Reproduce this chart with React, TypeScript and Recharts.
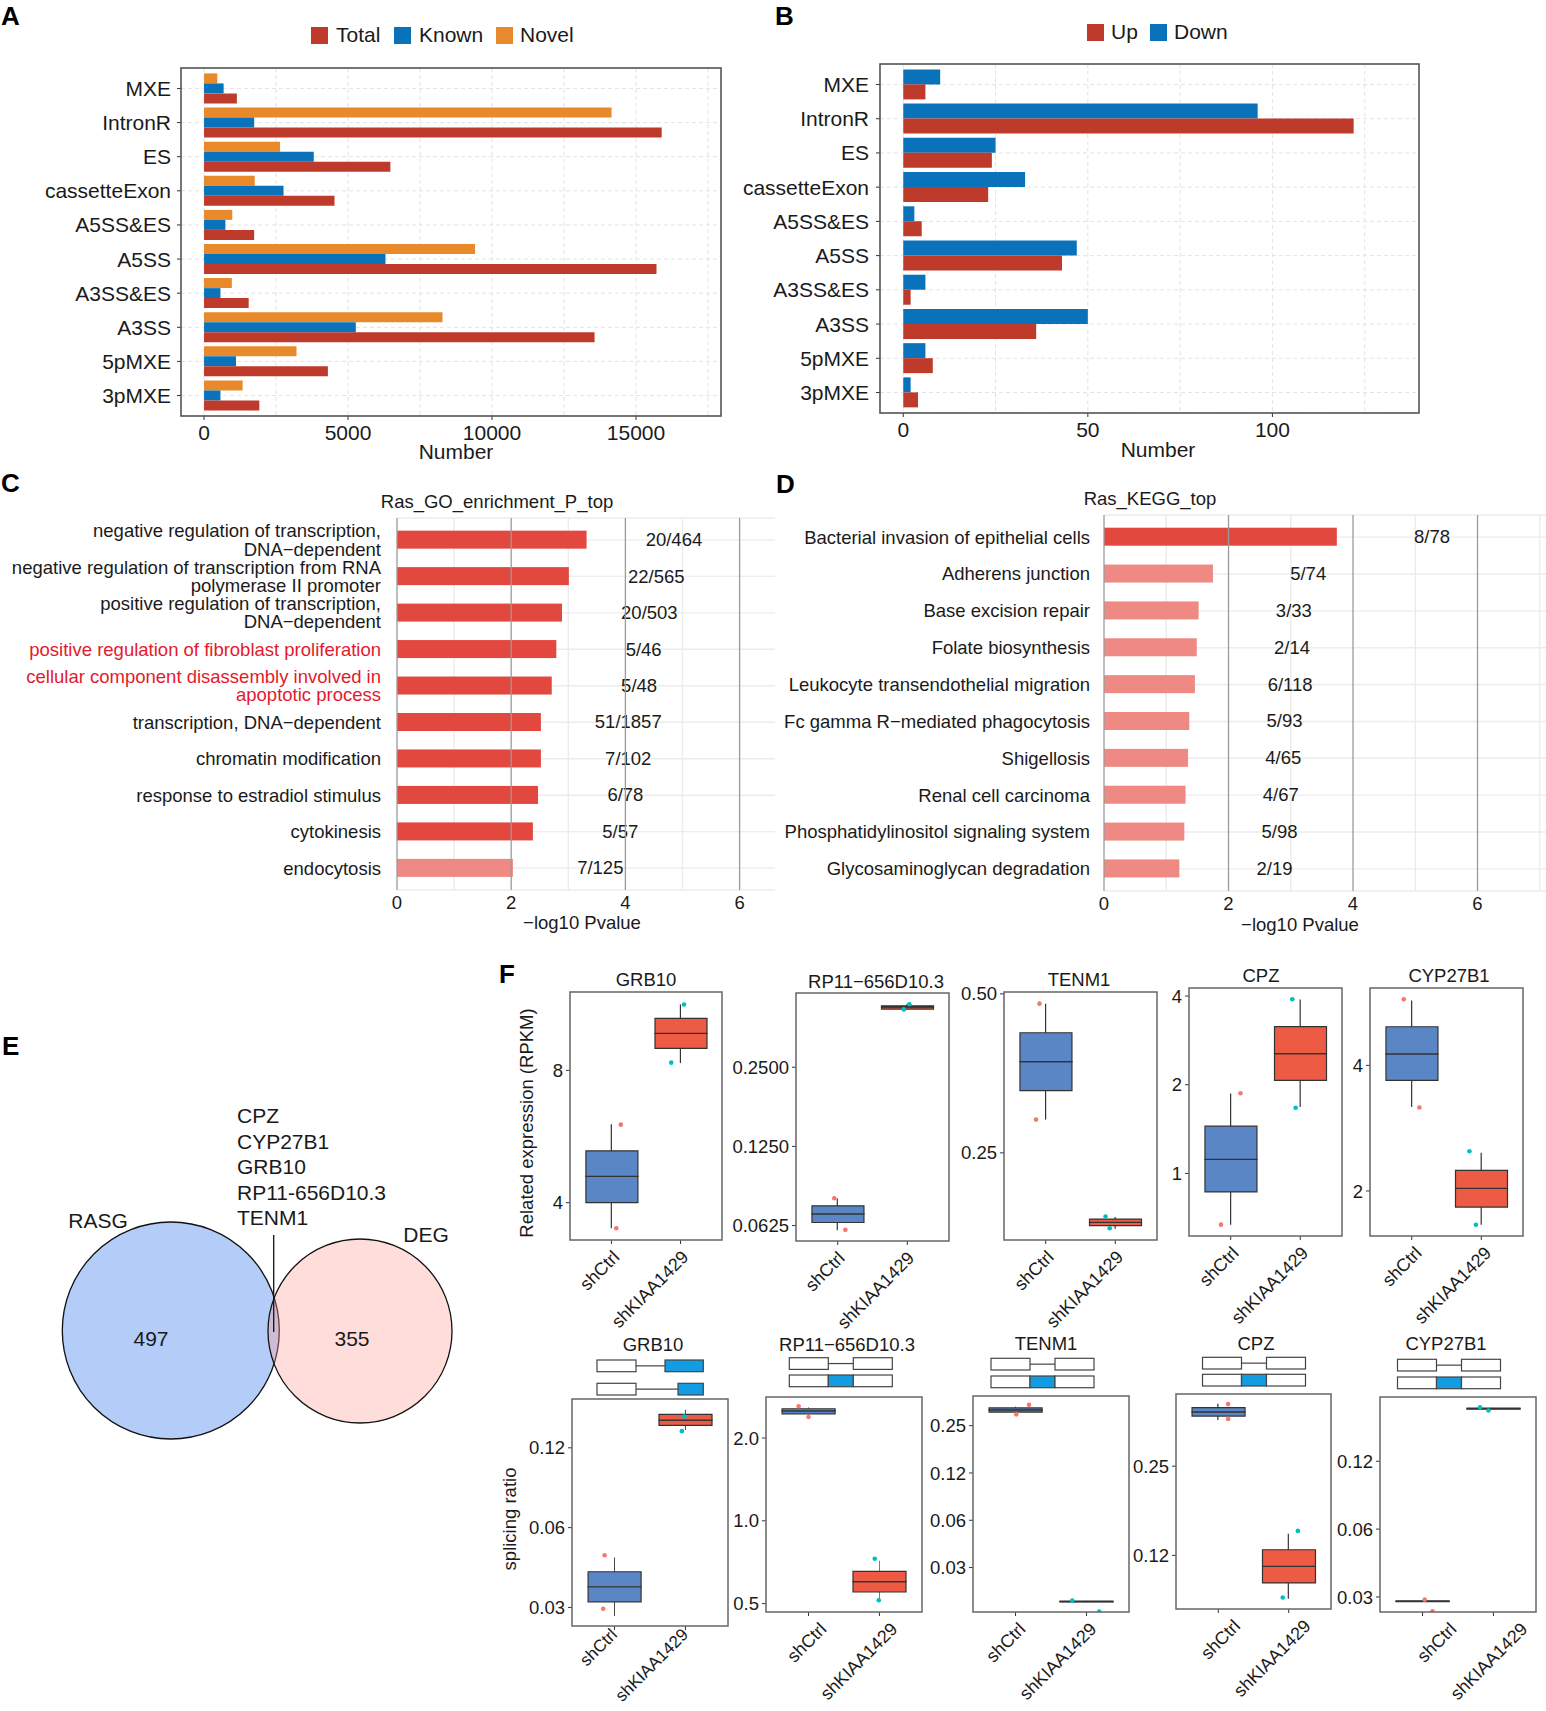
import React from 'react';
import {
  BarChart,
  Bar,
  XAxis,
  YAxis,
  CartesianGrid,
  ComposedChart,
  Scatter,
  ScatterChart,
  ReferenceLine,
  Cell,
} from 'recharts';

const FONT = '"Liberation Sans", Arial, Helvetica, sans-serif';
const INK = '#1a1a1a';

// ---------- A: AS events ----------
const eventTypes = ['MXE', 'IntronR', 'ES', 'cassetteExon', 'A5SS&ES', 'A5SS', 'A3SS&ES', 'A3SS', '5pMXE', '3pMXE'];
const totalCounts = [1140, 15890, 6470, 4530, 1740, 15710, 1550, 13560, 4300, 1920];
const knownCounts = [680, 1740, 3810, 2760, 740, 6300, 570, 5270, 1110, 570];
const novelCounts = [460, 14150, 2640, 1760, 980, 9410, 965, 8280, 3210, 1340];

// ---------- B: regulated AS events ----------
const upCounts = [6, 122, 24, 23, 5, 43, 2, 36, 8, 4];
const downCounts = [10, 96, 25, 33, 3, 47, 6, 50, 6, 2];

// ---------- C: GO ----------
const goTerms = [
  'negative regulation of transcription,\nDNA\u2212dependent',
  'negative regulation of transcription from RNA\npolymerase II promoter',
  'positive regulation of transcription,\nDNA\u2212dependent',
  'positive regulation of fibroblast proliferation',
  'cellular component disassembly involved in\napoptotic process',
  'transcription, DNA\u2212dependent',
  'chromatin modification',
  'response to estradiol stimulus',
  'cytokinesis',
  'endocytosis',
];
const goLogP = [3.32, 3.01, 2.89, 2.79, 2.71, 2.52, 2.52, 2.47, 2.38, 2.03];
const goRatio = ['20/464', '22/565', '20/503', '5/46', '5/48', '51/1857', '7/102', '6/78', '5/57', '7/125'];
const goHighlighted = [3, 4];

// ---------- D: KEGG ----------
const keggTerms = [
  'Bacterial invasion of epithelial cells',
  'Adherens junction',
  'Base excision repair',
  'Folate biosynthesis',
  'Leukocyte transendothelial migration',
  'Fc gamma R\u2212mediated phagocytosis',
  'Shigellosis',
  'Renal cell carcinoma',
  'Phosphatidylinositol signaling system',
  'Glycosaminoglycan degradation',
];
const keggLogP = [3.74, 1.75, 1.52, 1.49, 1.46, 1.37, 1.35, 1.31, 1.29, 1.21];
const keggRatio = ['8/78', '5/74', '3/33', '2/14', '6/118', '5/93', '4/65', '4/67', '5/98', '2/19'];

// ---------- E: Venn ----------
const vennSets = ['RASG', 'DEG'];
const vennOnly = [497, 355];
const vennShared = ['CPZ', 'CYP27B1', 'GRB10', 'RP11-656D10.3', 'TENM1'];

// ---------- F: box plots ----------
const groups = ['shCtrl', 'shKIAA1429'];
// [min, q1, median, q3, max] for shCtrl and shKIAA1429
const exprGRB10 = [[3.5, 4.0, 4.59, 5.25, 6.03], [8.31, 8.98, 9.71, 10.5, 11.3]];
const exprRP11 = [[0.06, 0.0642, 0.0692, 0.0743, 0.0792], [0.415, 0.416, 0.423, 0.428, 0.434]];
const exprTENM1 = [[0.289, 0.328, 0.372, 0.422, 0.479], [0.1795, 0.182, 0.1847, 0.1873, 0.189]];
const exprCPZ = [[0.67, 0.865, 1.115, 1.447, 1.866], [1.68, 2.07, 2.55, 3.15, 3.89]];
const exprCYP27B1 = [[3.18, 3.68, 4.26, 4.95, 5.72], [1.66, 1.83, 2.03, 2.24, 2.47]];
const splGRB10 = [[0.029, 0.0328, 0.0374, 0.0426, 0.0482], [0.146, 0.152, 0.159, 0.167, 0.174]];
const splRP11 = [[2.44, 2.45, 2.51, 2.556, 2.59], [0.517, 0.551, 0.601, 0.655, 0.715]];
const splTENM1 = [[0.302, 0.305, 0.315, 0.324, 0.331], [0.0188, 0.0189, 0.019, 0.0191, 0.0192]];
const splCPZ = [[0.358, 0.369, 0.381, 0.394, 0.406], [0.0892, 0.1009, 0.1147, 0.1306, 0.148]];
const splCYP27B1 = [[0.0297, 0.0298, 0.0299, 0.03, 0.0301], [0.212, 0.213, 0.214, 0.215, 0.216]];
// jittered samples [group position, value]
const exprPtsGRB10 = [[1.135, 6.02], [1.07, 3.5], [2.05, 11.3], [1.865, 8.33]];
const exprPtsRP11 = [[0.95, 0.0794], [1.11, 0.0602], [2.03, 0.434], [1.95, 0.415]];
const exprPtsTENM1 = [[0.91, 0.479], [0.86, 0.289], [1.86, 0.1895], [1.92, 0.18]];
const exprPtsCPZ = [[1.14, 1.87], [0.86, 0.67], [1.885, 3.9], [1.934, 1.67]];
const exprPtsCYP27B1 = [[0.885, 5.76], [1.11, 3.17], [1.83, 2.49], [1.923, 1.66]];
const splPtsGRB10 = [[0.86, 0.0492], [0.84, 0.0309], [1.986, 0.164], [1.95, 0.1445]];
const splPtsRP11 = [[0.86, 2.61], [1.0, 2.385], [1.934, 0.728], [1.99, 0.514]];
const splPtsTENM1 = [[1.19, 0.339], [1.01, 0.295], [1.8, 0.0193], [2.18, 0.0164]];
const splPtsCPZ = [[1.14, 0.405], [1.14, 0.361], [2.13, 0.1512], [1.915, 0.0901]];
const splPtsCYP27B1 = [[1.03, 0.0304], [1.14, 0.027], [1.81, 0.217], [1.93, 0.21]];

// ---------- styles / layout ----------
const C_TOTAL = '#BE3A2B';
const C_KNOWN = '#0A72BA';
const C_NOVEL = '#E8892B';
const BAR_DARK = '#E2483E';
const BAR_LIGHT = '#EE8A83';
const DARK_CUTOFF = 2.2;
const RED_TEXT = '#E31A2C';
const BOX_FILL = ['#5B86C5', '#EE5B44'];
const PT_FILL = ['#F8766D', '#00BFC4'];
const EXON_BLUE = '#139CE2';
const RATIO_SHIFT = 1.53;

const exprPanels = [
  { gene: 'GRB10', stats: exprGRB10, pts: exprPtsGRB10, box: [570, 992, 722, 1240], domain: [3.29, 12.06], ticks: [4, 8], labels: ['4', '8'], title: [646, 986], dx: 0, dy: 0, fs: 18 },
  { gene: 'RP11\u2212656D10.3', stats: exprRP11, pts: exprPtsRP11, box: [796, 993, 949, 1241], domain: [0.0546, 0.479], ticks: [0.0625, 0.125, 0.25], labels: ['0.0625', '0.1250', '0.2500'], title: [876, 988], dx: -1, dy: 0, fs: 18 },
  { gene: 'TENM1', stats: exprTENM1, pts: exprPtsTENM1, box: [1004, 992, 1157, 1240], domain: [0.171, 0.504], ticks: [0.25, 0.5], labels: ['0.25', '0.50'], title: [1079, 986], dx: 0, dy: 0, fs: 18 },
  { gene: 'CPZ', stats: exprCPZ, pts: exprPtsCPZ, box: [1189, 988, 1342, 1236], domain: [0.613, 4.26], ticks: [1, 2, 4], labels: ['1', '2', '4'], title: [1261, 982], dx: 0, dy: 0, fs: 18 },
  { gene: 'CYP27B1', stats: exprCYP27B1, pts: exprPtsCYP27B1, box: [1370, 988, 1523, 1236], domain: [1.56, 6.13], ticks: [2, 4], labels: ['2', '4'], title: [1449, 982], dx: 2, dy: 0, fs: 18 },
];

const splPanels = [
  { gene: 'GRB10', stats: splGRB10, pts: splPtsGRB10, box: [572, 1399, 728, 1626], domain: [0.0266, 0.191], ticks: [0.03125, 0.0625, 0.125], labels: ['0.03', '0.06', '0.12'], title: [653, 1351], dx: -5, dy: -8, fs: 17 },
  { gene: 'RP11\u2212656D10.3', stats: splRP11, pts: splPtsRP11, box: [766, 1397, 922, 1612], domain: [0.466, 2.82], ticks: [0.5, 1, 2], labels: ['0.5', '1.0', '2.0'], title: [847, 1351], dx: 10, dy: 0, fs: 18 },
  { gene: 'TENM1', stats: splTENM1, pts: splPtsTENM1, box: [973, 1396, 1129, 1612], domain: [0.0163, 0.386], ticks: [0.03125, 0.0625, 0.125, 0.25], labels: ['0.03', '0.06', '0.12', '0.25'], title: [1046, 1350], dx: 2, dy: 0, fs: 18 },
  { gene: 'CPZ', stats: splCPZ, pts: splPtsCPZ, box: [1176, 1394, 1331, 1609], domain: [0.0824, 0.438], ticks: [0.125, 0.25], labels: ['0.12', '0.25'], title: [1256, 1350], dx: 14, dy: 0, fs: 18 },
  { gene: 'CYP27B1', stats: splCYP27B1, pts: splPtsCYP27B1, box: [1380, 1397, 1536, 1612], domain: [0.0268, 0.241], ticks: [0.03125, 0.0625, 0.125], labels: ['0.03', '0.06', '0.12'], title: [1446, 1350], dx: 26, dy: 0, fs: 18 },
];

// generic cassette diagrams: [left x, row1 top, row2 top]
const exonDiagrams = [
  [789.3, 1357.7, 1375],
  [991, 1358.3, 1376],
  [1202.5, 1357.3, 1374.3],
  [1397.5, 1359.3, 1377],
];

const vennLayout = [
  { ux: 170.8, uy: 230.5, r: 108.5, fill: '#B4CDF8', opacity: 1 },
  { ux: 360, uy: 231, r: 92, fill: '#FF9D96', opacity: 0.35 },
];

// ---------- components ----------
function TermTick(props: any) {
  const { x, y, payload, red } = props;
  const lines = String(payload.value).split('\n');
  const isRed = red && red.includes(payload.value);
  const lh = 18.3;
  const y0 = y - ((lines.length - 1) * lh) / 2;
  return (
    <text x={x} y={y0} textAnchor="end" fontSize={18.5} fill={isRed ? RED_TEXT : INK} fontFamily={FONT}>
      {lines.map((l, i) => (
        <tspan key={i} x={x} y={y0 + i * lh} dy="0.35em">
          {l}
        </tspan>
      ))}
    </text>
  );
}

function EnrichBar(props: any) {
  const { x, y, width, height } = props;
  const d = props.payload ?? props;
  if (!width || !d || !d.value) return null;
  const px = width / d.value;
  return (
    <g>
      <rect x={x} y={y} width={width} height={height} fill={d.value > DARK_CUTOFF ? BAR_DARK : BAR_LIGHT} />
      <text x={x + width + RATIO_SHIFT * px} y={y + height / 2} dy="0.35em" textAnchor="middle" fontSize={18.5} fill={INK} fontFamily={FONT}>
        {d.ratio}
      </text>
    </g>
  );
}

function GroupTick(props: any) {
  const { x, y, payload, dx, shiftY, fs } = props;
  const ax = x + dx;
  const ay = y + 3 + (shiftY || 0);
  return (
    <text x={ax} y={ay} transform={`rotate(-45 ${ax} ${ay})`} textAnchor="end" dy="0.72em" fontSize={fs || 18} fill={INK} fontFamily={FONT}>
      {groups[Math.round(payload.value) - 1]}
    </text>
  );
}

function SampleDot(props: any) {
  const { cx, cy } = props;
  const d = props.payload ?? props;
  return <circle cx={cx} cy={cy} r={2.3} fill={PT_FILL[d.g]} />;
}

function VennCircle(props: any) {
  const { cx, cy } = props;
  const d = props.payload ?? props;
  return <circle cx={cx} cy={cy} r={d.r} fill={d.fill} fillOpacity={d.opacity} stroke="#111" strokeWidth={1.3} />;
}

function EventChart(props: any) {
  const { left, width, margin, yWidth, rows, series, domain, ticks, grid, barSize, tickMargin } = props;
  return (
    <div style={{ position: 'absolute', left, top: 0 }}>
      <BarChart layout="vertical" width={width} height={470} data={rows} margin={margin} barGap={0}>
        <CartesianGrid stroke="#e3e3e3" strokeDasharray="4 3" verticalValues={grid} />
        <XAxis
          type="number"
          domain={domain}
          ticks={ticks}
          allowDataOverflow
          height={30}
          axisLine={false}
          tickSize={4}
          tickMargin={5}
          tickLine={{ stroke: '#333' }}
          tick={{ fontSize: 21, fill: INK, fontFamily: FONT }}
          interval={0}
        />
        <YAxis
          type="category"
          dataKey="type"
          width={yWidth}
          axisLine={false}
          tickSize={4}
          tickMargin={tickMargin}
          tickLine={{ stroke: '#333' }}
          padding={{ top: 3.4, bottom: 3.4 }}
          tick={{ fontSize: 21, fill: INK, fontFamily: FONT }}
          interval={0}
        />
        {series.map((s: any) => (
          <Bar key={s.key} dataKey={s.key} fill={s.color} barSize={barSize} isAnimationActive={false} />
        ))}
      </BarChart>
    </div>
  );
}

function EnrichChart(props: any) {
  const { left, width, margin, yWidth, rows, domain, yPad, red, yTickMargin, minor } = props;
  return (
    <div style={{ position: 'absolute', left, top: 480 }}>
      <BarChart layout="vertical" width={width} height={460} data={rows} margin={margin}>
        <CartesianGrid stroke="#ececec" strokeWidth={1.4} verticalValues={minor} />
        <XAxis
          type="number"
          domain={domain}
          ticks={[0, 2, 4, 6]}
          allowDataOverflow
          height={30}
          axisLine={false}
          tickLine={false}
          tickSize={0}
          tickMargin={6}
          tick={{ fontSize: 18.5, fill: INK, fontFamily: FONT }}
          interval={0}
        />
        <YAxis
          type="category"
          dataKey="term"
          width={yWidth}
          axisLine={false}
          tickLine={false}
          tickSize={0}
          tickMargin={yTickMargin}
          padding={{ top: yPad, bottom: yPad }}
          interval={0}
          tick={<TermTick red={red} />}
        />
        <Bar dataKey="value" barSize={18} isAnimationActive={false} shape={(p: any) => <EnrichBar {...p} />} />
        {[0, 2, 4, 6].map((v) => (
          <ReferenceLine key={v} x={v} stroke="#9b9b9b" strokeWidth={1.3} />
        ))}
      </BarChart>
    </div>
  );
}

function BoxPanel({ cfg }: any) {
  const [L, T, R, B] = cfg.box;
  const W = R - L;
  const H = B - T;
  const yw = 75;
  const padT = 10;
  const padR = 40;
  const below = 130;
  const rows = cfg.stats.map((s: number[], i: number) => ({
    x: i + 1,
    whisker: [s[0], s[4]],
    lower: [s[1], s[2]],
    upper: [s[2], s[3]],
  }));
  const pts = cfg.pts.map(([x, y]: number[]) => ({ x, y, g: Math.round(x) - 1 }));
  const bw = Math.round((W / 2.2) * 0.75);
  const fmt = (v: number) => {
    const i = cfg.ticks.findIndex((t: number) => Math.abs(t - v) < 1e-9);
    return i >= 0 ? cfg.labels[i] : '';
  };
  const xCommon = { type: 'number' as const, dataKey: 'x', domain: [0.4, 2.6], ticks: [1, 2], allowDataOverflow: true };
  return (
    <div style={{ position: 'absolute', left: L - yw, top: T - padT }}>
      <ComposedChart width={W + yw + padR} height={H + padT + below} data={rows} margin={{ top: padT, right: padR, bottom: below - 30, left: 0 }}>
        <XAxis xAxisId="lo" {...xCommon} height={0} hide />
        <XAxis xAxisId="hi" {...xCommon} height={0} hide />
        <XAxis
          xAxisId="w"
          {...xCommon}
          height={30}
          axisLine={false}
          tickSize={4}
          tickLine={{ stroke: '#333' }}
          interval={0}
          tick={<GroupTick dx={cfg.dx} shiftY={cfg.dy} fs={cfg.fs} />}
        />
        <YAxis
          type="number"
          scale="log"
          domain={cfg.domain}
          ticks={cfg.ticks}
          allowDataOverflow
          width={yw}
          axisLine={false}
          tickSize={4}
          tickMargin={3}
          tickLine={{ stroke: '#333' }}
          tickFormatter={fmt}
          tick={{ fontSize: 18.5, fill: INK, fontFamily: FONT }}
          interval={0}
        />
        <Bar xAxisId="w" dataKey="whisker" barSize={1.2} fill="#333" isAnimationActive={false} />
        <Bar xAxisId="lo" dataKey="lower" barSize={bw} stroke="#333" strokeWidth={1.2} isAnimationActive={false}>
          {rows.map((_: any, i: number) => (
            <Cell key={i} fill={BOX_FILL[i]} />
          ))}
        </Bar>
        <Bar xAxisId="hi" dataKey="upper" barSize={bw} stroke="#333" strokeWidth={1.2} isAnimationActive={false}>
          {rows.map((_: any, i: number) => (
            <Cell key={i} fill={BOX_FILL[i]} />
          ))}
        </Bar>
        <Scatter xAxisId="w" data={pts} dataKey="y" isAnimationActive={false} shape={(p: any) => <SampleDot {...p} />} />
      </ComposedChart>
    </div>
  );
}

function CassetteDiagram({ x, y1, y2 }: any) {
  const h = 11.7;
  const st = { stroke: '#444', strokeWidth: 1.2 };
  return (
    <g>
      <rect x={x} y={y1} width={39} height={h} fill="#fff" {...st} />
      <line x1={x + 39} x2={x + 64} y1={y1 + h / 2} y2={y1 + h / 2} {...st} />
      <rect x={x + 64} y={y1} width={39} height={h} fill="#fff" {...st} />
      <rect x={x} y={y2} width={39} height={h} fill="#fff" {...st} />
      <rect x={x + 39} y={y2} width={25} height={h} fill={EXON_BLUE} {...st} />
      <rect x={x + 64} y={y2} width={39} height={h} fill="#fff" {...st} />
    </g>
  );
}

function GrbDiagram() {
  const h = 11.7;
  const st = { stroke: '#444', strokeWidth: 1.2 };
  return (
    <g>
      <rect x={597} y={1360} width={39} height={h} fill="#fff" {...st} />
      <line x1={636} x2={665} y1={1360 + h / 2} y2={1360 + h / 2} {...st} />
      <rect x={665} y={1360} width={38.3} height={h} fill={EXON_BLUE} {...st} />
      <rect x={597} y={1383.3} width={39} height={h} fill="#fff" {...st} />
      <line x1={636} x2={678} y1={1383.3 + h / 2} y2={1383.3 + h / 2} {...st} />
      <rect x={678} y={1383.3} width={25.3} height={h} fill={EXON_BLUE} {...st} />
    </g>
  );
}

function Overlay() {
  const t = { fontFamily: FONT, fill: INK };
  return (
    <svg width={1546} height={1711} style={{ position: 'absolute', left: 0, top: 0, pointerEvents: 'none' }}>
      {/* panel letters */}
      <text x={1} y={25} fontSize={26} fontWeight="bold" {...t} fill="#000">A</text>
      <text x={775} y={25} fontSize={26} fontWeight="bold" {...t} fill="#000">B</text>
      <text x={1} y={492} fontSize={26} fontWeight="bold" {...t} fill="#000">C</text>
      <text x={776} y={493} fontSize={26} fontWeight="bold" {...t} fill="#000">D</text>
      <text x={2} y={1055} fontSize={26} fontWeight="bold" {...t} fill="#000">E</text>
      <text x={499} y={983} fontSize={26} fontWeight="bold" {...t} fill="#000">F</text>

      {/* legends */}
      <rect x={311} y={27} width={17} height={17} fill={C_TOTAL} />
      <text x={336} y={42} fontSize={21} {...t}>Total</text>
      <rect x={394} y={27} width={17} height={17} fill={C_KNOWN} />
      <text x={419} y={42} fontSize={21} {...t}>Known</text>
      <rect x={496} y={27} width={17} height={17} fill={C_NOVEL} />
      <text x={520} y={42} fontSize={21} {...t}>Novel</text>
      <rect x={1087} y={24} width={17} height={17} fill={C_TOTAL} />
      <text x={1111} y={39} fontSize={21} {...t}>Up</text>
      <rect x={1150} y={24} width={17} height={17} fill={C_KNOWN} />
      <text x={1174} y={39} fontSize={21} {...t}>Down</text>

      {/* A/B frames and titles */}
      <rect x={181} y={68} width={540} height={348} fill="none" stroke="#555" strokeWidth={1.6} />
      <rect x={880} y={64} width={539} height={349} fill="none" stroke="#555" strokeWidth={1.6} />
      <text x={456} y={459} fontSize={21} textAnchor="middle" {...t}>Number</text>
      <text x={1158} y={457} fontSize={21} textAnchor="middle" {...t}>Number</text>

      {/* C/D titles */}
      <text x={497} y={508} fontSize={18.5} textAnchor="middle" {...t}>Ras_GO_enrichment_P_top</text>
      <text x={1150} y={505} fontSize={18.5} textAnchor="middle" {...t}>Ras_KEGG_top</text>
      <text x={582} y={929} fontSize={18.5} textAnchor="middle" {...t}>{'\u2212log10 Pvalue'}</text>
      <text x={1300} y={931} fontSize={18.5} textAnchor="middle" {...t}>{'\u2212log10 Pvalue'}</text>

      {/* E annotations */}
      <text x={98} y={1228} fontSize={21} textAnchor="middle" {...t}>{vennSets[0]}</text>
      <text x={426} y={1242} fontSize={21} textAnchor="middle" {...t}>{vennSets[1]}</text>
      {vennShared.map((g, i) => (
        <text key={g} x={237} y={1123 + i * 25.6} fontSize={21} {...t}>{g}</text>
      ))}
      <line x1={273.7} x2={273.7} y1={1235} y2={1332} stroke="#111" strokeWidth={1.3} />
      <text x={151} y={1346} fontSize={21} textAnchor="middle" {...t}>{vennOnly[0]}</text>
      <text x={352} y={1346} fontSize={21} textAnchor="middle" {...t}>{vennOnly[1]}</text>

      {/* F frames, titles, diagrams */}
      {[...exprPanels, ...splPanels].map((p, i) => (
        <g key={i}>
          <rect x={p.box[0]} y={p.box[1]} width={p.box[2] - p.box[0]} height={p.box[3] - p.box[1]} fill="none" stroke="#666" strokeWidth={1.5} />
          <text x={p.title[0]} y={p.title[1]} fontSize={18.5} textAnchor="middle" {...t}>{p.gene}</text>
        </g>
      ))}
      <text transform="translate(527,1123) rotate(-90)" textAnchor="middle" dy="0.35em" fontSize={18.5} {...t}>Related expression (RPKM)</text>
      <text transform="translate(510,1519) rotate(-90)" textAnchor="middle" dy="0.35em" fontSize={18.5} {...t}>splicing ratio</text>
      <GrbDiagram />
      {exonDiagrams.map(([x, y1, y2], i) => (
        <CassetteDiagram key={i} x={x} y1={y1} y2={y2} />
      ))}
    </svg>
  );
}

export default function App() {
  const aRows = eventTypes.map((type, i) => ({ type, total: totalCounts[i], known: knownCounts[i], novel: novelCounts[i] }));
  const bRows = eventTypes.map((type, i) => ({ type, up: upCounts[i], down: downCounts[i] }));
  const cRows = goTerms.map((term, i) => ({ term, value: goLogP[i], ratio: goRatio[i] }));
  const dRows = keggTerms.map((term, i) => ({ term, value: keggLogP[i], ratio: keggRatio[i] }));
  const vennRows = vennSets.map((name, i) => ({ name, count: vennOnly[i], ...vennLayout[i] }));

  return (
    <div style={{ position: 'absolute', left: 0, top: 0, width: 1546, height: 1711, background: '#fff', fontFamily: FONT, overflow: 'hidden' }}>
      <EventChart
        left={0}
        width={740}
        margin={{ top: 68, right: 19, bottom: 24, left: 0 }}
        yWidth={181}
        rows={aRows}
        series={[
          { key: 'novel', color: C_NOVEL },
          { key: 'known', color: C_KNOWN },
          { key: 'total', color: C_TOTAL },
        ]}
        domain={[-800, 17950]}
        ticks={[0, 5000, 10000, 15000]}
        grid={[0, 2500, 5000, 7500, 10000, 12500, 15000, 17500]}
        barSize={10}
        tickMargin={6}
      />
      <EventChart
        left={700}
        width={740}
        margin={{ top: 64, right: 21, bottom: 27, left: 0 }}
        yWidth={180}
        rows={bRows}
        series={[
          { key: 'down', color: C_KNOWN },
          { key: 'up', color: C_TOTAL },
        ]}
        domain={[-6.3, 139.7]}
        ticks={[0, 50, 100]}
        grid={[0, 25, 50, 75, 100, 125]}
        barSize={15}
        tickMargin={7}
      />
      <EnrichChart
        left={0}
        width={790}
        margin={{ top: 38, right: 15, bottom: 20, left: 0 }}
        yWidth={397}
        rows={cRows}
        domain={[0, 6.62]}
        yPad={3.65}
        red={goHighlighted.map((i) => goTerms[i])}
        yTickMargin={16}
        minor={[1, 3, 5]}
      />
      <EnrichChart
        left={700}
        width={846}
        margin={{ top: 35, right: 0, bottom: 19, left: 0 }}
        yWidth={404}
        rows={dRows}
        domain={[0, 7.1]}
        yPad={3.7}
        red={[]}
        yTickMargin={14}
        minor={[1, 3, 5, 7]}
      />
      <div style={{ position: 'absolute', left: 0, top: 1100 }}>
        <ScatterChart width={500} height={400} margin={{ top: 0, right: 0, bottom: 0, left: 0 }}>
          <XAxis type="number" dataKey="ux" domain={[0, 500]} hide />
          <YAxis type="number" dataKey="uy" domain={[0, 400]} reversed hide />
          <Scatter data={vennRows} isAnimationActive={false} shape={(p: any) => <VennCircle {...p} />} />
        </ScatterChart>
      </div>
      {exprPanels.map((cfg) => (
        <BoxPanel key={'e' + cfg.gene} cfg={cfg} />
      ))}
      {splPanels.map((cfg) => (
        <BoxPanel key={'s' + cfg.gene} cfg={cfg} />
      ))}
      <Overlay />
    </div>
  );
}
